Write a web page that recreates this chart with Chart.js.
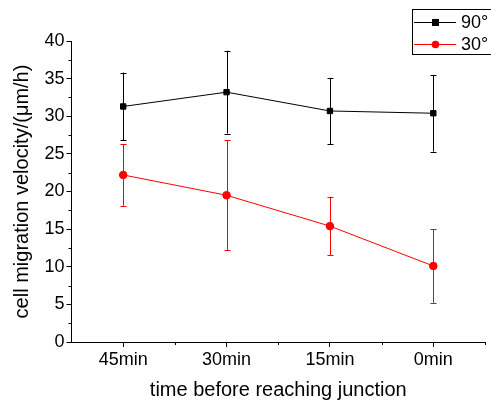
<!DOCTYPE html>
<html>
<head>
<meta charset="utf-8">
<script src="https://cdn.jsdelivr.net/npm/chart.js@4.4.0/dist/chart.umd.min.js"></script>
<style>
  html, body { margin: 0; padding: 0; background: #fff; }
  #wrap { width: 491px; height: 405px; }
</style>
</head>
<body>
<div id="wrap"><canvas id="chLine"></canvas></div>
<script>
// categories and values
var categories = ['45min', '30min', '15min', '0min'];
var v90 = [31.3, 33.2, 30.7, 30.4];
var e90 = [4.5, 5.5, 4.4, 5.1];
var v30 = [22.2, 19.5, 15.4, 10.1];
var e30 = [4.1, 7.3, 3.9, 4.9];
var yTicks = [0, 5, 10, 15, 20, 25, 30, 35, 40];

var FONT = 'Liberation Sans, Arial, sans-serif';

function pts(vals) {
  return vals.map(function (v, i) { return {x: i + 1, y: v}; });
}

// error bars, minor ticks and the boxed legend
var extras = {
  id: 'extras',
  afterDatasetsDraw: function (chart) {
    var ctx = chart.ctx, xs = chart.scales.x, ys = chart.scales.y;
    var errs = [e90, e30];
    ctx.save();
    ctx.lineWidth = 1;
    chart.data.datasets.forEach(function (ds, k) {
      ctx.strokeStyle = ds.borderColor;
      ds.data.forEach(function (p, i) {
        var x = Math.round(xs.getPixelForValue(p.x)) + 0.5;
        var top = ys.getPixelForValue(p.y + errs[k][i]);
        var bot = ys.getPixelForValue(p.y - errs[k][i]);
        ctx.beginPath();
        ctx.moveTo(x, top); ctx.lineTo(x, bot);
        ctx.moveTo(x - 3, Math.round(top) + 0.5); ctx.lineTo(x + 3, Math.round(top) + 0.5);
        ctx.moveTo(x - 3, Math.round(bot) + 0.5); ctx.lineTo(x + 3, Math.round(bot) + 0.5);
        ctx.stroke();
      });
    });
    ctx.restore();
  },
  afterDraw: function (chart) {
    var ctx = chart.ctx, xs = chart.scales.x, ys = chart.scales.y;
    ctx.save();
    ctx.strokeStyle = '#000';
    ctx.lineWidth = 1;
    ctx.beginPath();
    // minor y ticks
    for (var v = 2.5; v < 40; v += 5) {
      var y = Math.round(ys.getPixelForValue(v)) + 0.5;
      ctx.moveTo(ys.right - 3, y); ctx.lineTo(ys.right, y);
    }
    // minor x ticks
    for (var u = 1.5; u <= 4.5; u += 1) {
      var x = Math.round(xs.getPixelForValue(u)) + 0.5;
      ctx.moveTo(x, xs.top); ctx.lineTo(x, xs.top + 3);
    }
    ctx.stroke();

    // legend box
    var bx = 412.5, by = 9.5, bw = 80, bh = 45;
    ctx.strokeStyle = '#000';
    ctx.strokeRect(bx, by, bw, bh);
    ctx.font = '18px ' + FONT;
    ctx.textBaseline = 'middle';
    chart.data.datasets.forEach(function (ds, k) {
      var cy = 22.5 + k * 22;
      ctx.strokeStyle = ds.borderColor;
      ctx.beginPath();
      ctx.moveTo(414, cy); ctx.lineTo(456, cy);
      ctx.stroke();
      ctx.fillStyle = ds.borderColor;
      if (ds.pointStyle === 'rect') {
        ctx.fillRect(432, cy - 3.5, 7, 7);
      } else {
        ctx.beginPath();
        ctx.arc(435.5, cy, 3.8, 0, Math.PI * 2);
        ctx.fill();
      }
      ctx.fillStyle = '#000';
      ctx.fillText(ds.label, 461, cy + 1);
    });
    ctx.restore();
  }
};

new Chart(document.getElementById('chLine'), {
  type: 'line',
  data: {
    datasets: [
      {label: '90\u00b0', data: pts(v90), borderColor: '#000000', backgroundColor: '#000000',
       borderWidth: 1, pointStyle: 'rect', pointRadius: 3.8, pointHoverRadius: 3.8},
      {label: '30\u00b0', data: pts(v30), borderColor: '#ff0000', backgroundColor: '#ff0000',
       borderWidth: 1, pointStyle: 'circle', pointRadius: 3.8, pointHoverRadius: 3.8}
    ]
  },
  options: {
    responsive: true,
    maintainAspectRatio: false,
    animation: false,
    layout: {padding: {top: 41, right: 6, left: 0, bottom: 0}},
    plugins: {legend: {display: false}, tooltip: {enabled: false}},
    scales: {
      x: {
        type: 'linear', min: 0.5, max: 4.5,
        afterFit: function (s) { s.height = 63; },
        afterBuildTicks: function (s) {
          s.ticks = categories.map(function (c, i) { return {value: i + 1}; });
        },
        ticks: {
          color: '#000', font: {family: FONT, size: 18}, padding: 2,
          callback: function (v) { return categories[v - 1]; }
        },
        grid: {drawOnChartArea: false, tickLength: 5, tickColor: '#000'},
        border: {color: '#000', width: 1},
        title: {display: true, text: 'time before reaching junction', color: '#000',
                font: {family: FONT, size: 20}, padding: {top: 2, bottom: 3}}
      },
      y: {
        min: 0, max: 40,
        afterFit: function (s) { s.width = 71.5; },
        afterBuildTicks: function (s) {
          s.ticks = yTicks.map(function (v) { return {value: v}; });
        },
        ticks: {color: '#000', font: {family: FONT, size: 18}, padding: 2},
        grid: {drawOnChartArea: false, tickLength: 5, tickColor: '#000'},
        border: {color: '#000', width: 1},
        title: {display: true, text: 'cell migration velocity/(\u03bcm/h)', color: '#000',
                font: {family: FONT, size: 20}, padding: {top: 10, bottom: 2}}
      }
    }
  },
  plugins: [extras]
});
</script>
</body>
</html>
